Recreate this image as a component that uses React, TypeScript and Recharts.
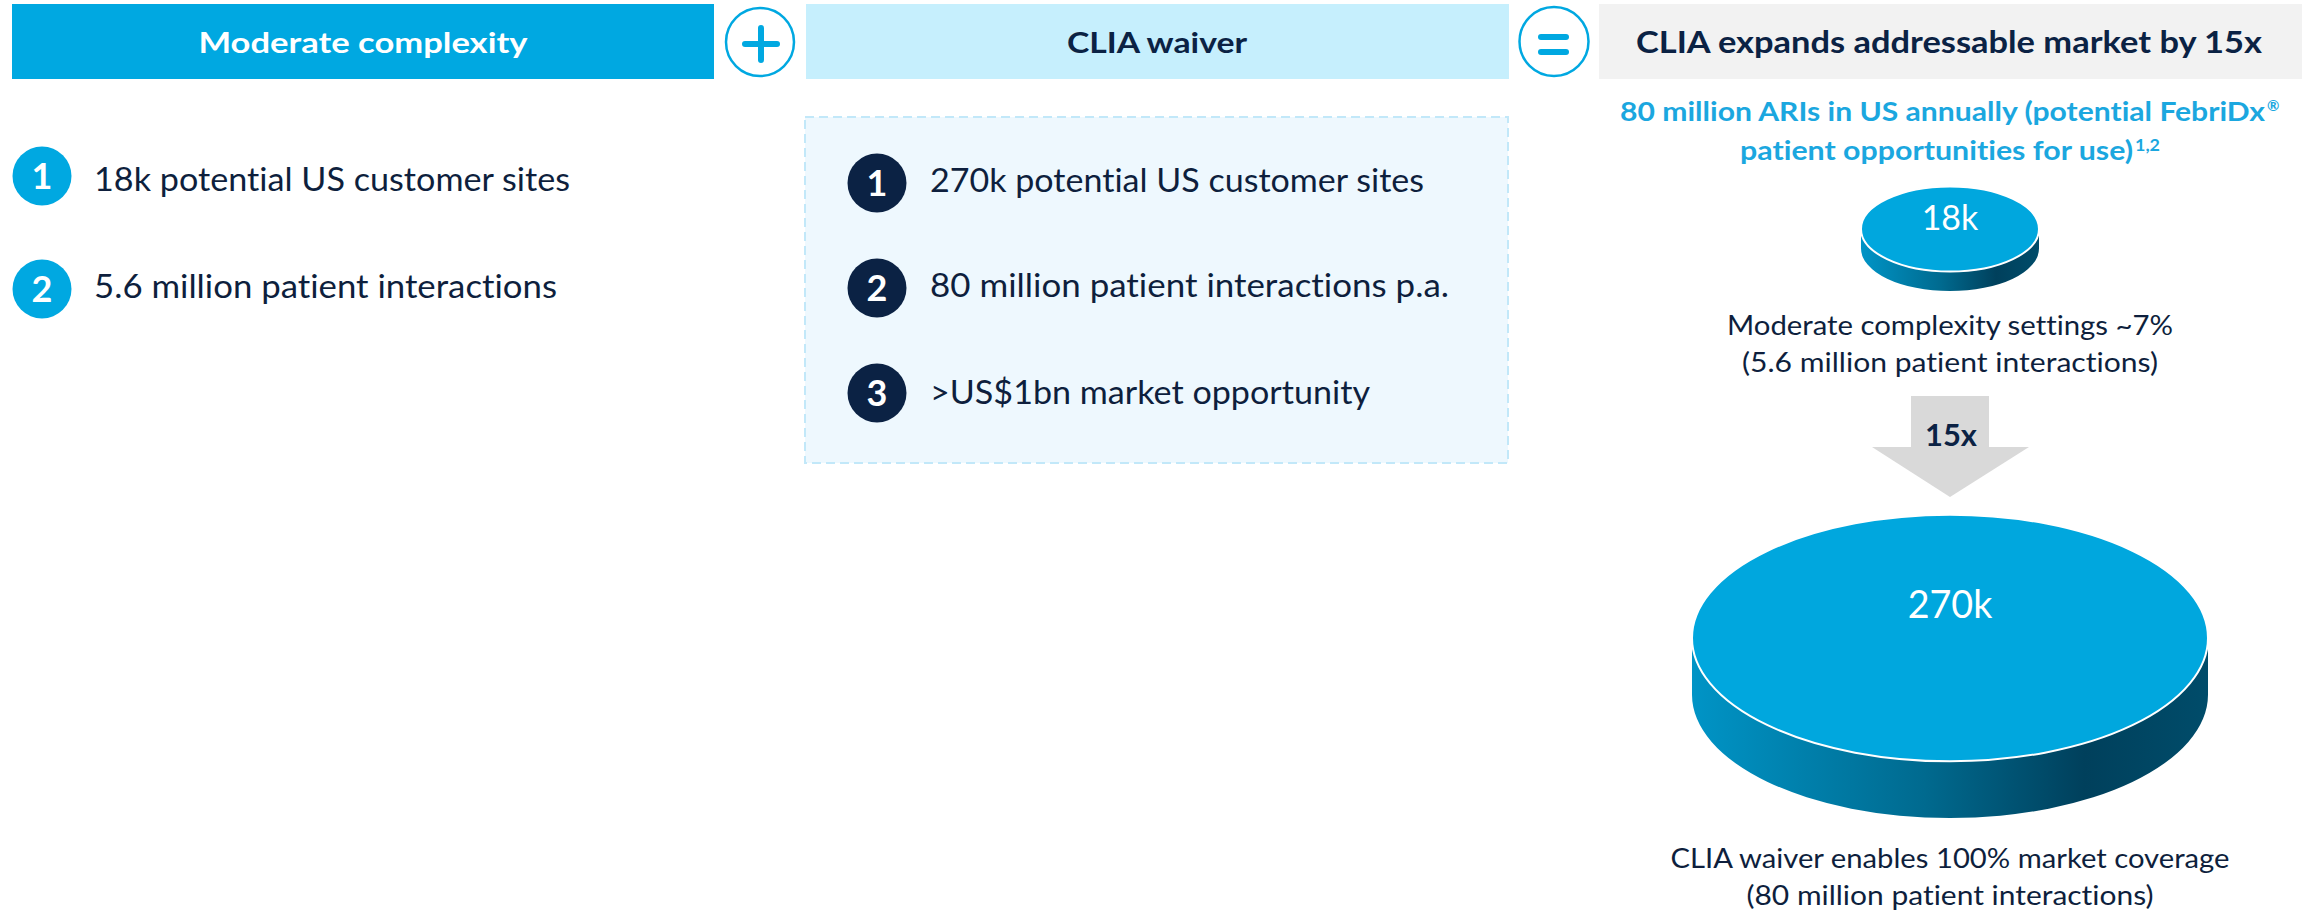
import React from 'react';
import { ScatterChart, Scatter, XAxis, YAxis, ZAxis } from 'recharts';

const FONT = 'Lato, "Open Sans", Arial, sans-serif';
const NAVY = '#0b2244';
const TEXT = '#0e1f3d';
const BLUE = '#00a8e1';
const SKY = '#1ba7df';

// panel content
const panelTitles = ['Moderate complexity', 'CLIA waiver', 'CLIA expands addressable market by 15x'];
const moderateFacts = ['18k potential US customer sites', '5.6 million patient interactions'];
const waiverFacts = ['270k potential US customer sites', '80 million patient interactions p.a.', '>US$1bn market opportunity'];
const ariNote = ['80 million ARIs in US annually (potential FebriDx', 'patient opportunities for use)'];

// disc series
const settings = ['Moderate complexity', 'CLIA waiver'];
const customerSitesK = [18, 270];
const siteLabels = ['18k', '270k'];
const settingNotes = [
    ['Moderate complexity settings ~7%', '(5.6 million patient interactions)'],
    ['CLIA waiver enables 100% market coverage', '(80 million patient interactions)'],
];
const expansion = '15x';

const discData = settings.map((setting, i) => ({
    market: 'US',
    setting,
    sites: customerSitesK[i],
    label: siteLabels[i],
}));

const noLig = { fontVariantLigatures: 'none' as const };

interface TProps {
    x: number;
    y: number;
    size: number;
    children: string;
    fill?: string;
    bold?: boolean;
    anchor?: 'start' | 'middle' | 'end';
    len?: number;
}

function T({ x, y, size, children, fill = TEXT, bold, anchor = 'start', len }: TProps) {
    return (
        <text
            x={x}
            y={y}
            fontSize={size}
            fontFamily={FONT}
            fontWeight={bold ? 700 : 400}
            fill={fill}
            textAnchor={anchor}
            textLength={len}
            lengthAdjust={len ? 'spacingAndGlyphs' : undefined}
            style={noLig}
        >
            {children}
        </text>
    );
}

function Badge({ cx, cy, n, fill }: { cx: number; cy: number; n: number; fill: string }) {
    return (
        <g>
            <circle cx={cx} cy={cy} r={29.5} fill={fill} />
            <T x={cx} y={cy + 13} size={36} fill="#fff" bold anchor="middle">{String(n)}</T>
        </g>
    );
}

function Disc(props: any) {
    const { cx, cy, width, payload } = props;
    if (cx == null || cy == null || !width) return null;
    const rx = width / 2;
    const ry = rx * 0.478;
    const depth = rx * 0.22;
    const gid = `disc-side-${payload.sites}`;
    const fs = 32 + rx * 0.022;
    const side = `M${cx - rx},${cy} L${cx - rx},${cy + depth} A${rx},${ry} 0 0 0 ${cx + rx},${cy + depth} L${cx + rx},${cy} A${rx},${ry} 0 0 1 ${cx - rx},${cy} Z`;
    return (
        <g>
            <defs>
                <linearGradient id={gid} x1="0" y1="0" x2="1" y2="0">
                    <stop offset="0%" stopColor="#0094c6" />
                    <stop offset="45%" stopColor="#006a8f" />
                    <stop offset="76%" stopColor="#00405c" />
                    <stop offset="100%" stopColor="#004c6a" />
                </linearGradient>
            </defs>
            <path d={side} fill={`url(#${gid})`} />
            <ellipse cx={cx} cy={cy} rx={rx} ry={ry} fill="#00a7de" stroke="#ffffff" strokeWidth={2} />
            <text
                x={cx}
                y={cy - 0.275 * ry + 0.36 * fs}
                fontSize={fs}
                fontFamily={FONT}
                fill="#ffffff"
                textAnchor="middle"
            >
                {payload.label}
            </text>
        </g>
    );
}

export default function App() {
    return (
        <div style={{ position: 'absolute', left: 0, top: 0, width: 2318, height: 914, background: '#fff', overflow: 'hidden' }}>
            <svg width={2318} height={914} style={{ position: 'absolute', left: 0, top: 0 }}>
                {/* headers */}
                <rect x={12} y={4} width={702} height={75} fill={BLUE} />
                <T x={363} y={53} size={29} fill="#fff" bold anchor="middle" len={329}>{panelTitles[0]}</T>

                <circle cx={760} cy={42} r={34} fill="#fff" stroke={BLUE} strokeWidth={2.5} />
                <line x1={745} y1={44} x2={777} y2={44} stroke={BLUE} strokeWidth={6} strokeLinecap="round" />
                <line x1={761} y1={28} x2={761} y2={60} stroke={BLUE} strokeWidth={6} strokeLinecap="round" />

                <rect x={806} y={4} width={703} height={75} fill="#c6effd" />
                <T x={1157} y={53} size={29} fill={NAVY} bold anchor="middle" len={180}>{panelTitles[1]}</T>

                <circle cx={1554} cy={41.5} r={34.5} fill="#fff" stroke={BLUE} strokeWidth={2.5} />
                <line x1={1541} y1={37} x2={1566} y2={37} stroke={BLUE} strokeWidth={6} strokeLinecap="round" />
                <line x1={1541} y1={52} x2={1566} y2={52} stroke={BLUE} strokeWidth={6} strokeLinecap="round" />

                <rect x={1599} y={4} width={703} height={75} fill="#f2f2f2" />
                <T x={1949} y={53} size={30} fill={NAVY} bold anchor="middle" len={626}>{panelTitles[2]}</T>

                {/* moderate complexity list */}
                <Badge cx={42} cy={176} n={1} fill={BLUE} />
                <T x={94} y={191} size={32} len={476}>{moderateFacts[0]}</T>
                <Badge cx={42} cy={289} n={2} fill={BLUE} />
                <T x={94} y={298} size={32} len={463}>{moderateFacts[1]}</T>

                {/* CLIA waiver list */}
                <rect x={805} y={117} width={703} height={346} fill="#eef8fe" stroke="#c2e8f9" strokeWidth={2} strokeDasharray="9 5" />
                <Badge cx={877} cy={183} n={1} fill={NAVY} />
                <T x={930} y={192} size={32} len={494}>{waiverFacts[0]}</T>
                <Badge cx={877} cy={288} n={2} fill={NAVY} />
                <T x={930} y={297} size={32} len={519}>{waiverFacts[1]}</T>
                <Badge cx={877} cy={393} n={3} fill={NAVY} />
                <T x={930} y={404} size={32} len={440}>{waiverFacts[2]}</T>

                {/* market note */}
                <T x={1620} y={121} size={26.5} fill={SKY} bold len={645}>{ariNote[0]}</T>
                <T x={2267} y={111} size={15} fill={SKY} bold>®</T>
                <T x={1740} y={160} size={26.5} fill={SKY} bold len={393}>{ariNote[1]}</T>
                <T x={2135} y={151} size={17} fill={SKY} bold len={25}>1,2</T>

                {/* captions */}
                <T x={1950} y={335} size={27} anchor="middle" len={446}>{settingNotes[0][0]}</T>
                <T x={1950} y={372} size={27} anchor="middle" len={416}>{settingNotes[0][1]}</T>
                <T x={1950} y={868} size={27} anchor="middle" len={559}>{settingNotes[1][0]}</T>
                <T x={1950} y={905} size={27} anchor="middle" len={407}>{settingNotes[1][1]}</T>

                {/* expansion arrow */}
                <polygon points="1911,396 1989,396 1989,447 2029,447 1950,497 1872,447 1911,447" fill="#d9d9d9" />
                <T x={1951} y={446} size={30} fill={NAVY} bold anchor="middle" len={52}>{expansion}</T>
            </svg>

            <div style={{ position: 'absolute', left: 1600, top: 0 }}>
                <ScatterChart width={700} height={914} margin={{ top: 24.5, right: 0, bottom: 71.5, left: 0 }}>
                    <XAxis type="category" dataKey="market" hide allowDuplicatedCategory={false} />
                    <YAxis type="category" dataKey="setting" hide allowDuplicatedCategory={false} reversed />
                    <ZAxis type="number" dataKey="sites" domain={[18, 270]} range={[24885, 209117]} />
                    <Scatter data={discData} shape={<Disc />} isAnimationActive={false} />
                </ScatterChart>
            </div>
        </div>
    );
}
